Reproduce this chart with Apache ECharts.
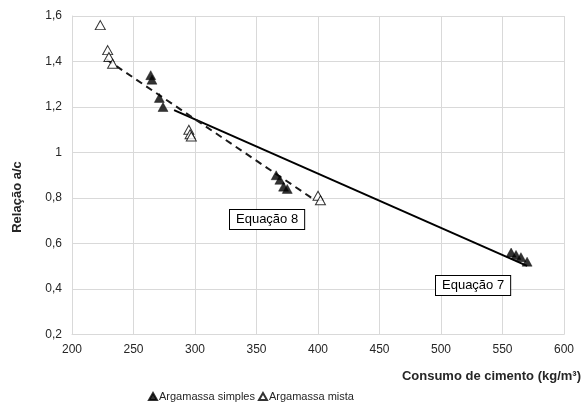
<!DOCTYPE html>
<html>
<head>
<meta charset="utf-8">
<script src="https://cdn.jsdelivr.net/npm/echarts@6/dist/echarts.min.js"></script>
<style>
  html, body { margin: 0; padding: 0; background: #fff; }
  #chart { width: 584px; height: 404px; }
</style>
</head>
<body>
<div id="chart"></div>
<script>
// Argamassa simples (filled triangles)
const simplesX = [264, 265, 271, 274, 366, 369, 372, 375, 557, 561, 565, 570];
const simplesY = [1.34, 1.32, 1.24, 1.20, 0.90, 0.88, 0.85, 0.84, 0.56, 0.55, 0.54, 0.52];

// Argamassa mista (open triangles)
const mistaX = [223, 229, 230, 233, 295, 296, 297, 400, 402];
const mistaY = [1.56, 1.45, 1.42, 1.39, 1.10, 1.08, 1.07, 0.81, 0.79];

// Fitted lines: Equação 7 (solid) and Equação 8 (dashed), end points
const eq7X = [283, 570];
const eq7Y = [1.186, 0.502];
const eq8X = [228, 396];
const eq8Y = [1.409, 0.796];

const xTicks = [200, 250, 300, 350, 400, 450, 500, 550, 600];
const yTicks = [0.2, 0.4, 0.6, 0.8, 1.0, 1.2, 1.4, 1.6];

const zip = (xs, ys) => xs.map((x, i) => [x, ys[i]]);
const fmt = v => String(+v.toFixed(1)).replace('.', ',');

const FONT = '"Liberation Sans", Arial, sans-serif';
const chart = echarts.init(document.getElementById('chart'), null, { renderer: 'canvas' });

chart.setOption({
  animation: false,
  backgroundColor: '#ffffff',
  textStyle: { fontFamily: FONT },
  grid: { left: 72, right: 20, top: 16, bottom: 69.5 },
  xAxis: {
    type: 'value',
    min: xTicks[0], max: xTicks[xTicks.length - 1], interval: 50,
    axisLine: { show: true, lineStyle: { color: '#d9d9d9', width: 1 } },
    axisTick: { show: false },
    splitLine: { show: true, lineStyle: { color: '#d9d9d9', width: 1 } },
    axisLabel: { color: '#262626', fontSize: 12, fontFamily: FONT, margin: 9 },
    name: 'Consumo de cimento (kg/m³)',
    nameLocation: 'end',
    nameGap: 0,
    nameTextStyle: {
      color: '#262626', fontSize: 13, fontWeight: 'bold', fontFamily: FONT,
      align: 'right', verticalAlign: 'top', padding: [35, -17, 0, 0]
    }
  },
  yAxis: {
    type: 'value',
    min: yTicks[0], max: yTicks[yTicks.length - 1], interval: 0.2,
    axisLine: { show: true, lineStyle: { color: '#d9d9d9', width: 1 } },
    axisTick: { show: false },
    splitLine: { show: true, lineStyle: { color: '#d9d9d9', width: 1 } },
    axisLabel: { color: '#262626', fontSize: 12, fontFamily: FONT, margin: 10, formatter: fmt }
  },
  legend: {
    left: 143, top: 386,
    itemWidth: 8, itemHeight: 7, itemGap: 3,
    icon: 'triangle',
    textStyle: { color: '#262626', fontSize: 11, fontFamily: FONT, padding: [0, 0, 0, -3] },
    data: ['Argamassa simples', 'Argamassa mista']
  },
  series: [
    {
      name: 'Equação 7', type: 'line', data: zip(eq7X, eq7Y),
      symbol: 'none', lineStyle: { color: '#000', width: 2 }, z: 2
    },
    {
      name: 'Equação 8', type: 'line', data: zip(eq8X, eq8Y),
      symbol: 'none', lineStyle: { color: '#1a1a1a', width: 2, type: [7, 5] }, z: 2
    },
    {
      name: 'Argamassa simples', type: 'scatter', data: zip(simplesX, simplesY),
      symbol: 'triangle', symbolSize: [10, 9],
      itemStyle: { color: '#000', borderColor: '#000', borderWidth: 0.5 }, z: 3
    },
    {
      name: 'Argamassa mista', type: 'scatter', data: zip(mistaX, mistaY),
      symbol: 'triangle', symbolSize: [10, 9],
      itemStyle: { color: '#fff', borderColor: '#000', borderWidth: 1 }, z: 3
    }
  ],
  graphic: [
    {
      // y axis title
      type: 'text', x: 11, y: 197, rotation: Math.PI / 2, z: 10,
      style: {
        text: 'Relação a/c', font: 'bold 13px ' + FONT, fill: '#262626',
        align: 'center', verticalAlign: 'top'
      }
    },
    {
      type: 'text', left: 229, top: 209, z: 10,
      style: {
        text: 'Equação 8', font: '13px ' + FONT, fill: '#000',
        backgroundColor: '#fff', borderColor: '#000', borderWidth: 1,
        padding: [3, 6, 3, 6]
      }
    },
    {
      type: 'text', left: 435, top: 275, z: 10,
      style: {
        text: 'Equação 7', font: '13px ' + FONT, fill: '#000',
        backgroundColor: '#fff', borderColor: '#000', borderWidth: 1,
        padding: [3, 6, 3, 6]
      }
    }
  ]
});
</script>
</body>
</html>
